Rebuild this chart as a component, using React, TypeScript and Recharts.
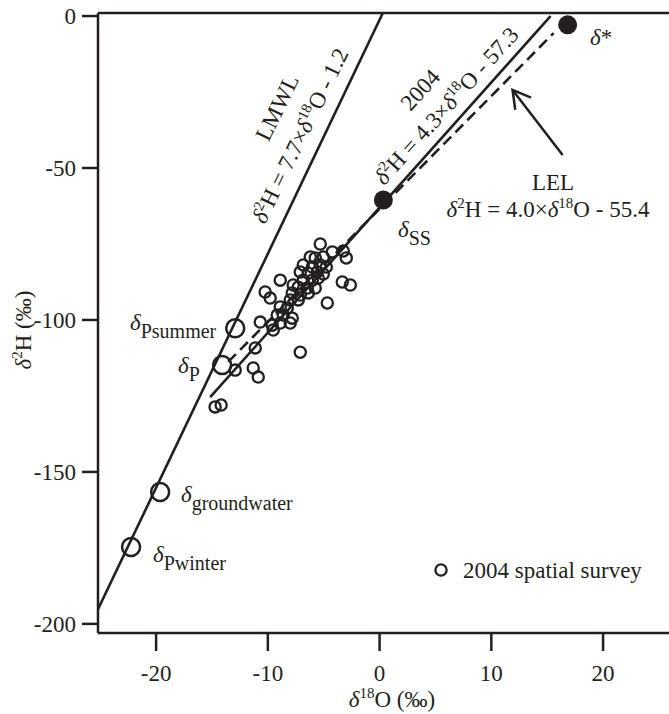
import { ReferenceLine, Scatter, ScatterChart, XAxis, YAxis } from "recharts"

const INK = "#231f20"
const FONT = "'Liberation Serif', 'Times New Roman', serif"

const xTicks = [-20, -10, 0, 10, 20]
const yTicks = [-200, -150, -100, -50, 0]

// 2004 spatial survey samples, [δ18O, δ2H]
const survey = [
  [-5.31, -75.0], [-4.23, -77.6], [-3.25, -77.3], [-2.98, -79.6], [-6.2, -79.3],
  [-5.76, -79.6], [-5.04, -79.3], [-6.83, -81.9], [-6.02, -82.6], [-5.31, -81.9],
  [-4.77, -82.6], [-7.1, -84.2], [-6.38, -84.6], [-5.58, -84.2], [-5.04, -84.9],
  [-6.83, -86.9], [-6.02, -86.9], [-5.49, -86.2], [-8.89, -86.9], [-3.34, -87.5],
  [-2.62, -88.5], [-7.73, -88.5], [-7.28, -89.2], [-6.47, -89.5], [-5.76, -89.5],
  [-10.24, -90.8], [-7.82, -91.1], [-7.1, -91.8], [-6.38, -91.1], [-9.79, -92.8],
  [-8.0, -93.4], [-7.28, -93.4], [-4.68, -94.4], [-8.89, -95.7], [-8.26, -96.1],
  [-9.16, -98.4], [-8.62, -98.4], [-7.82, -99.4], [-10.68, -100.7], [-9.61, -101.7],
  [-8.89, -101.0], [-8.0, -101.0], [-9.52, -103.3], [-11.13, -109.2], [-7.1, -110.6],
  [-12.92, -116.5], [-11.31, -115.8], [-10.86, -118.8], [-14.72, -128.6], [-14.18, -128.0],
].map(([x, y]) => ({ x, y }))

// end members on the meteoric line (open) and evaporated ones (filled)
const endMembers = [
  { x: -12.92, y: -102.7 }, // Psummer
  { x: -14.09, y: -114.8 }, // P
  { x: -19.64, y: -156.6 }, // groundwater
  { x: -22.24, y: -174.7 }, // Pwinter
]
const evaporated = [
  { x: 0.34, y: -60.5 }, // SS
  { x: 16.83, y: -2.9 }, // *
]

const lmwl = [{ x: -25.2, y: -195.2 }, { x: 0.29, y: 1 }]
const line2004 = [{ x: -15.16, y: -125.4 }, { x: 15.3, y: 0 }]
const lel = [{ x: -13.55, y: -113.8 }, { x: 15.58, y: -5.6 }]
const lelArrow = [{ x: 16.38, y: -45.7 }, { x: 11.9, y: -24.3 }]

const noDot = () => <g />

const ring = (r: number, w: number) => (p: any) => (
  <circle cx={p.cx} cy={p.cy} r={r} fill="none" stroke={INK} strokeWidth={w} />
)

const disc = (p: any) => <circle cx={p.cx} cy={p.cy} r={9.5} fill={INK} />

const arrowShape = (p: any) => {
  const { x1, y1, x2, y2 } = p
  const a = Math.atan2(y1 - y2, x1 - x2)
  const len = 20
  const w1 = { x: x2 + len * Math.cos(a - 0.52), y: y2 + len * Math.sin(a - 0.52) }
  const w2 = { x: x2 + len * Math.cos(a + 0.52), y: y2 + len * Math.sin(a + 0.52) }
  return (
    <g stroke={INK} strokeWidth={2.5} fill="none">
      <line x1={x1} y1={y1} x2={x2} y2={y2} />
      <polyline points={`${w1.x},${w1.y} ${x2},${y2} ${w2.x},${w2.y}`} />
    </g>
  )
}

function Eq({ x, y, angle, k, b }: any) {
  return (
    <text
      x={x}
      y={y}
      textAnchor="middle"
      transform={angle ? `rotate(${angle} ${x} ${y})` : undefined}
    >
      <tspan fontStyle="italic">δ</tspan>
      <tspan fontSize={15} dy={-9}>2</tspan>
      <tspan dy={9}>H = {k}×</tspan>
      <tspan fontStyle="italic">δ</tspan>
      <tspan fontSize={15} dy={-9}>18</tspan>
      <tspan dy={9}>O - {b}</tspan>
    </text>
  )
}

function Sub({ x, y, sub }: any) {
  return (
    <text x={x} y={y}>
      <tspan fontStyle="italic">δ</tspan>
      <tspan fontSize={20} dy={8}>{sub}</tspan>
    </text>
  )
}

export default function App() {
  const tick = { fontSize: 23, fill: INK, fontFamily: FONT }
  return (
    <div style={{ position: "absolute", left: 0, top: 0, width: 669, height: 714, background: "#fff" }}>
      <ScatterChart width={669} height={714} margin={{ top: 13, right: 0, bottom: 0, left: 0 }}>
        <XAxis
          type="number"
          dataKey="x"
          domain={[-25.2, 25.9]}
          ticks={xTicks}
          allowDataOverflow
          height={81}
          tickSize={18}
          tickMargin={14}
          tick={tick}
          axisLine={{ stroke: INK, strokeWidth: 2.5 }}
          tickLine={{ stroke: INK, strokeWidth: 2.5 }}
        />
        <YAxis
          type="number"
          dataKey="y"
          domain={[-203, 1]}
          ticks={yTicks}
          allowDataOverflow
          width={98}
          tickSize={16}
          tickMargin={6}
          tick={tick}
          axisLine={{ stroke: INK, strokeWidth: 2.5 }}
          tickLine={{ stroke: INK, strokeWidth: 2.5 }}
        />
        <ReferenceLine y={1} stroke={INK} strokeWidth={2.5} />
        <Scatter data={lmwl} shape={noDot} line={{ stroke: INK, strokeWidth: 2.6 }} isAnimationActive={false} />
        <Scatter data={line2004} shape={noDot} line={{ stroke: INK, strokeWidth: 2.6 }} isAnimationActive={false} />
        <Scatter
          data={lel}
          shape={noDot}
          line={{ stroke: INK, strokeWidth: 2.6, strokeDasharray: "11 6" }}
          isAnimationActive={false}
        />
        <ReferenceLine segment={lelArrow} shape={arrowShape} />
        <Scatter data={survey} shape={ring(5.6, 2.3)} isAnimationActive={false} />
        <Scatter data={endMembers} shape={ring(9, 2.5)} isAnimationActive={false} />
        <Scatter data={evaporated} shape={disc} isAnimationActive={false} />
      </ScatterChart>

      <svg
        width={669}
        height={714}
        style={{ position: "absolute", left: 0, top: 0, pointerEvents: "none" }}
        fontFamily={FONT}
        fontSize={23}
        fill={INK}
      >
        <text x={284} y={111} textAnchor="middle" transform="rotate(-64 284 111)">LMWL</text>
        <Eq x={307} y={139} angle={-64} k="7.7" b="1.2" />
        <text x={426} y={95} textAnchor="middle" transform="rotate(-48 426 95)">2004</text>
        <Eq x={452} y={111} angle={-48} k="4.3" b="57.3" />
        <text x={553} y={190} textAnchor="middle">LEL</text>
        <Eq x={548} y={217} k="4.0" b="55.4" />

        <text x={590} y={45}>
          <tspan fontStyle="italic">δ</tspan>*
        </text>
        <Sub x={398} y={237} sub="SS" />
        <Sub x={130} y={330} sub="Psummer" />
        <Sub x={178} y={373} sub="P" />
        <Sub x={181} y={502} sub="groundwater" />
        <Sub x={153} y={562} sub="Pwinter" />

        <circle cx={441} cy={570} r={5.6} fill="none" stroke={INK} strokeWidth={2.3} />
        <text x={463} y={578}>2004 spatial survey</text>

        <text x={31} y={330} textAnchor="middle" transform="rotate(-90 31 330)">
          <tspan fontStyle="italic">δ</tspan>
          <tspan fontSize={15} dy={-9}>2</tspan>
          <tspan dy={9}>H (‰)</tspan>
        </text>
        <text x={392} y={707} textAnchor="middle">
          <tspan fontStyle="italic">δ</tspan>
          <tspan fontSize={15} dy={-9}>18</tspan>
          <tspan dy={9}>O (‰)</tspan>
        </text>
      </svg>
    </div>
  )
}
